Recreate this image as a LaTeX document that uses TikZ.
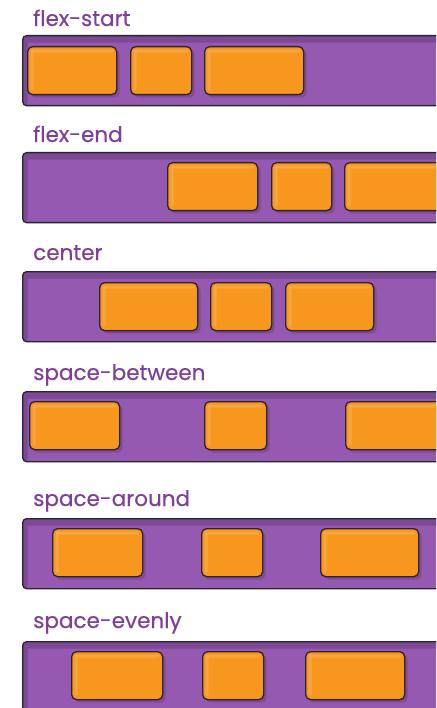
\documentclass[tikz,border=0pt]{standalone}
\usepackage{fontspec}
\setmainfont{Poppins}
\newfontfamily\lblfont{Poppins}[FakeBold=0.4]
\usepackage{tikz}
\usetikzlibrary{positioning, shadows}

\definecolor{barpurple}{HTML}{9659B2}
\definecolor{bardark}{HTML}{7D4895}
\definecolor{labelpurple}{HTML}{7F3F98}
\definecolor{itemorange}{HTML}{F7971E}
\definecolor{itemlight}{HTML}{F9AE55}

\begin{document}
\begin{tikzpicture}[
    x=1pt, y=-1pt,
    lbl/.style={text=labelpurple, anchor=base west, inner sep=0pt,
                font=\lblfont\fontsize{21.5}{24}\selectfont},
    bar/.style={draw=black!85, line width=1.3pt, fill=barpurple, rounded corners=4pt,
                anchor=north west, inner sep=0pt, minimum width=440pt, minimum height=70pt,
                path picture={\fill[bardark] (path picture bounding box.north west)
                  rectangle ([yshift=-7pt]path picture bounding box.north east);
                  \fill[bardark] (path picture bounding box.north west)
                  rectangle ([xshift=5pt]path picture bounding box.south west);}},
    item/.style={draw=black!85, line width=1.3pt, fill=itemorange, rounded corners=5pt,
                 anchor=north west, inner sep=0pt, minimum height=48pt,
                 drop shadow={shadow xshift=3pt, shadow yshift=-3pt, fill=bardark, opacity=.8},
                 path picture={\fill[itemlight, opacity=.6, rounded corners=2pt]
                   ([xshift=3pt,yshift=-3pt]path picture bounding box.north west)
                   rectangle ([xshift=-3pt,yshift=-6pt]path picture bounding box.north east);
                   \fill[itemlight, opacity=.6, rounded corners=2pt]
                   ([xshift=3pt,yshift=-3pt]path picture bounding box.north west)
                   rectangle ([xshift=6pt,yshift=4pt]path picture bounding box.south west);}},
]
\useasboundingbox (0,0) rectangle (436,708);
\clip (0,0) rectangle (436,708);

% --- flex-start ---
\node[lbl] (l1) at (33,26) {flex-start};
\node[bar] (b1) at (22,35) {};
\node[item, minimum width=89pt] (b1a) at (27,46) {};
\node[item, minimum width=61pt] (b1b) at (130,46) {};
\node[item, minimum width=99pt] (b1c) at (204,46) {};

% --- flex-end ---
\node[lbl] (l2) at (33,142) {flex-end};
\node[bar] (b2) at (22,152) {};
\node[item, minimum width=90pt] (b2a) at (167,162) {};
\node[item, minimum width=60pt] (b2b) at (271,162) {};
\node[item, minimum width=99pt] (b2c) at (344,162) {};

% --- center ---
\node[lbl] (l3) at (33,260) {center};
\node[bar] (b3) at (22,271) {};
\node[item, minimum width=98pt] (b3a) at (99,282) {};
\node[item, minimum width=61pt] (b3b) at (210,282) {};
\node[item, minimum width=88pt] (b3c) at (285,282) {};

% --- space-between ---
\node[lbl] (l4) at (33,380) {space-between};
\node[bar] (b4) at (22,391) {};
\node[item, minimum width=90pt] (b4a) at (29,401) {};
\node[item, minimum width=62pt] (b4b) at (204,401) {};
\node[item, minimum width=99pt] (b4c) at (345,401) {};

% --- space-around ---
\node[lbl] (l5) at (33,506) {space-around};
\node[bar] (b5) at (22,518) {};
\node[item, minimum width=90pt] (b5a) at (52,528) {};
\node[item, minimum width=61pt] (b5b) at (201,528) {};
\node[item, minimum width=98pt] (b5c) at (320,528) {};

% --- space-evenly ---
\node[lbl] (l6) at (33,628) {space-evenly};
\node[bar, minimum height=80pt] (b6) at (22,641) {};
\node[item, minimum width=91pt] (b6a) at (71,651) {};
\node[item, minimum width=61pt] (b6b) at (202,651) {};
\node[item, minimum width=99pt] (b6c) at (305,651) {};

\end{tikzpicture}
\end{document}
